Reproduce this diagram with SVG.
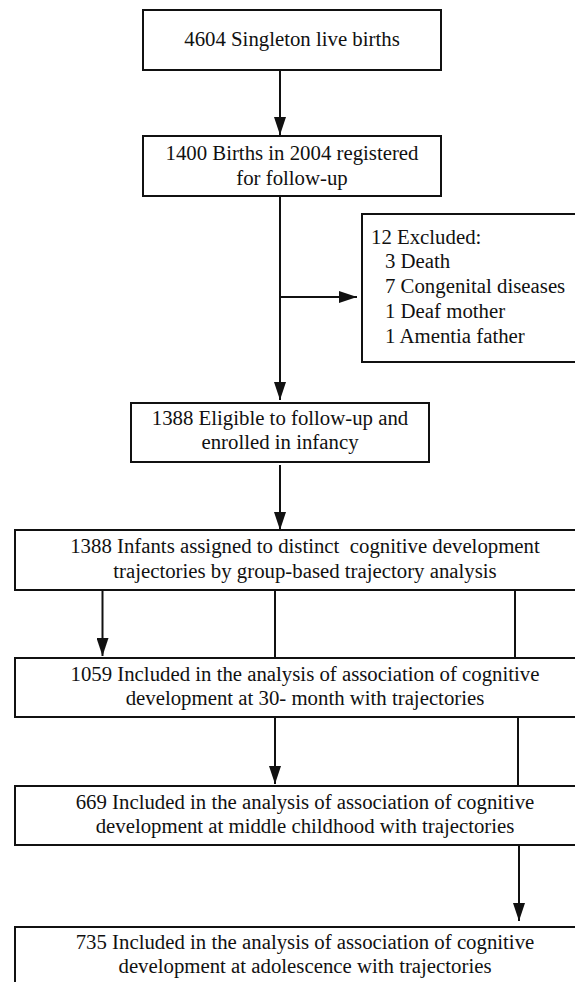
<svg xmlns="http://www.w3.org/2000/svg" width="575" height="982" viewBox="0 0 575 982">
<defs>
<style>
.box{fill:#fff;stroke:#111;stroke-width:2}
.ln{fill:none;stroke:#111;stroke-width:2}
.t{font-family:"Liberation Serif","Times New Roman",serif;font-size:20.8px;fill:#111;white-space:pre}
.c{text-anchor:middle}
</style>
<marker id="ah" markerUnits="userSpaceOnUse" markerWidth="18" markerHeight="12" refX="18" refY="6" orient="auto">
<path d="M0,0 L18,6 L0,12 z" fill="#111"/>
</marker>
</defs>
<rect width="575" height="982" fill="#fff"/>
<g id="connectors">
<line class="ln" x1="280" y1="70" x2="280" y2="135" marker-end="url(#ah)"/>
<line class="ln" x1="280" y1="196" x2="280" y2="400" marker-end="url(#ah)"/>
<line class="ln" x1="280" y1="297" x2="357" y2="297" marker-end="url(#ah)"/>
<line class="ln" x1="280" y1="465" x2="280" y2="530" marker-end="url(#ah)"/>
<line class="ln" x1="102.5" y1="590" x2="102.5" y2="656" marker-end="url(#ah)"/>
<line class="ln" x1="275" y1="590" x2="275" y2="658"/>
<line class="ln" x1="515" y1="590" x2="515" y2="658"/>
<line class="ln" x1="275" y1="717" x2="275" y2="784" marker-end="url(#ah)"/>
<line class="ln" x1="518" y1="717" x2="518" y2="786"/>
<line class="ln" x1="519" y1="845" x2="519" y2="921" marker-end="url(#ah)"/>
</g>
<g id="n1">
<rect class="box" x="143" y="10" width="298" height="60"/>
<text class="t c" x="292" y="46">4604 Singleton live births</text>
</g>
<g id="n2">
<rect class="box" x="143" y="136" width="298" height="60"/>
<text class="t c" x="292" y="160">1400 Births in 2004 registered</text>
<text class="t c" x="292" y="185">for follow-up</text>
</g>
<g id="excluded">
<rect class="box" x="362" y="214" width="240" height="148"/>
<text class="t" x="371" y="244">12 Excluded:</text>
<text class="t" x="385" y="268">3 Death</text>
<text class="t" x="385" y="293">7 Congenital diseases</text>
<text class="t" x="385" y="318">1 Deaf mother</text>
<text class="t" x="385" y="342.5">1 Amentia father</text>
</g>
<g id="n3">
<rect class="box" x="131" y="403" width="298" height="59"/>
<text class="t c" x="280" y="425">1388 Eligible to follow-up and</text>
<text class="t c" x="280" y="449">enrolled in infancy</text>
</g>
<g id="n4">
<rect class="box" x="15" y="530" width="590" height="60"/>
<text class="t c" x="305" y="553" xml:space="preserve">1388 Infants assigned to distinct  cognitive development</text>
<text class="t c" x="305" y="578">trajectories by group-based trajectory analysis</text>
</g>
<g id="n5">
<rect class="box" x="15" y="658" width="590" height="59"/>
<text class="t c" x="305" y="681">1059 Included in the analysis of association of cognitive</text>
<text class="t c" x="305" y="705">development at 30- month with trajectories</text>
</g>
<g id="n6">
<rect class="box" x="15" y="786" width="590" height="59"/>
<text class="t c" x="305" y="809">669 Included in the analysis of association of cognitive</text>
<text class="t c" x="305" y="833">development at middle childhood with trajectories</text>
</g>
<g id="n7">
<rect class="box" x="15" y="927" width="590" height="70"/>
<text class="t c" x="305" y="949">735 Included in the analysis of association of cognitive</text>
<text class="t c" x="305" y="973">development at adolescence with trajectories</text>
</g>
</svg>
